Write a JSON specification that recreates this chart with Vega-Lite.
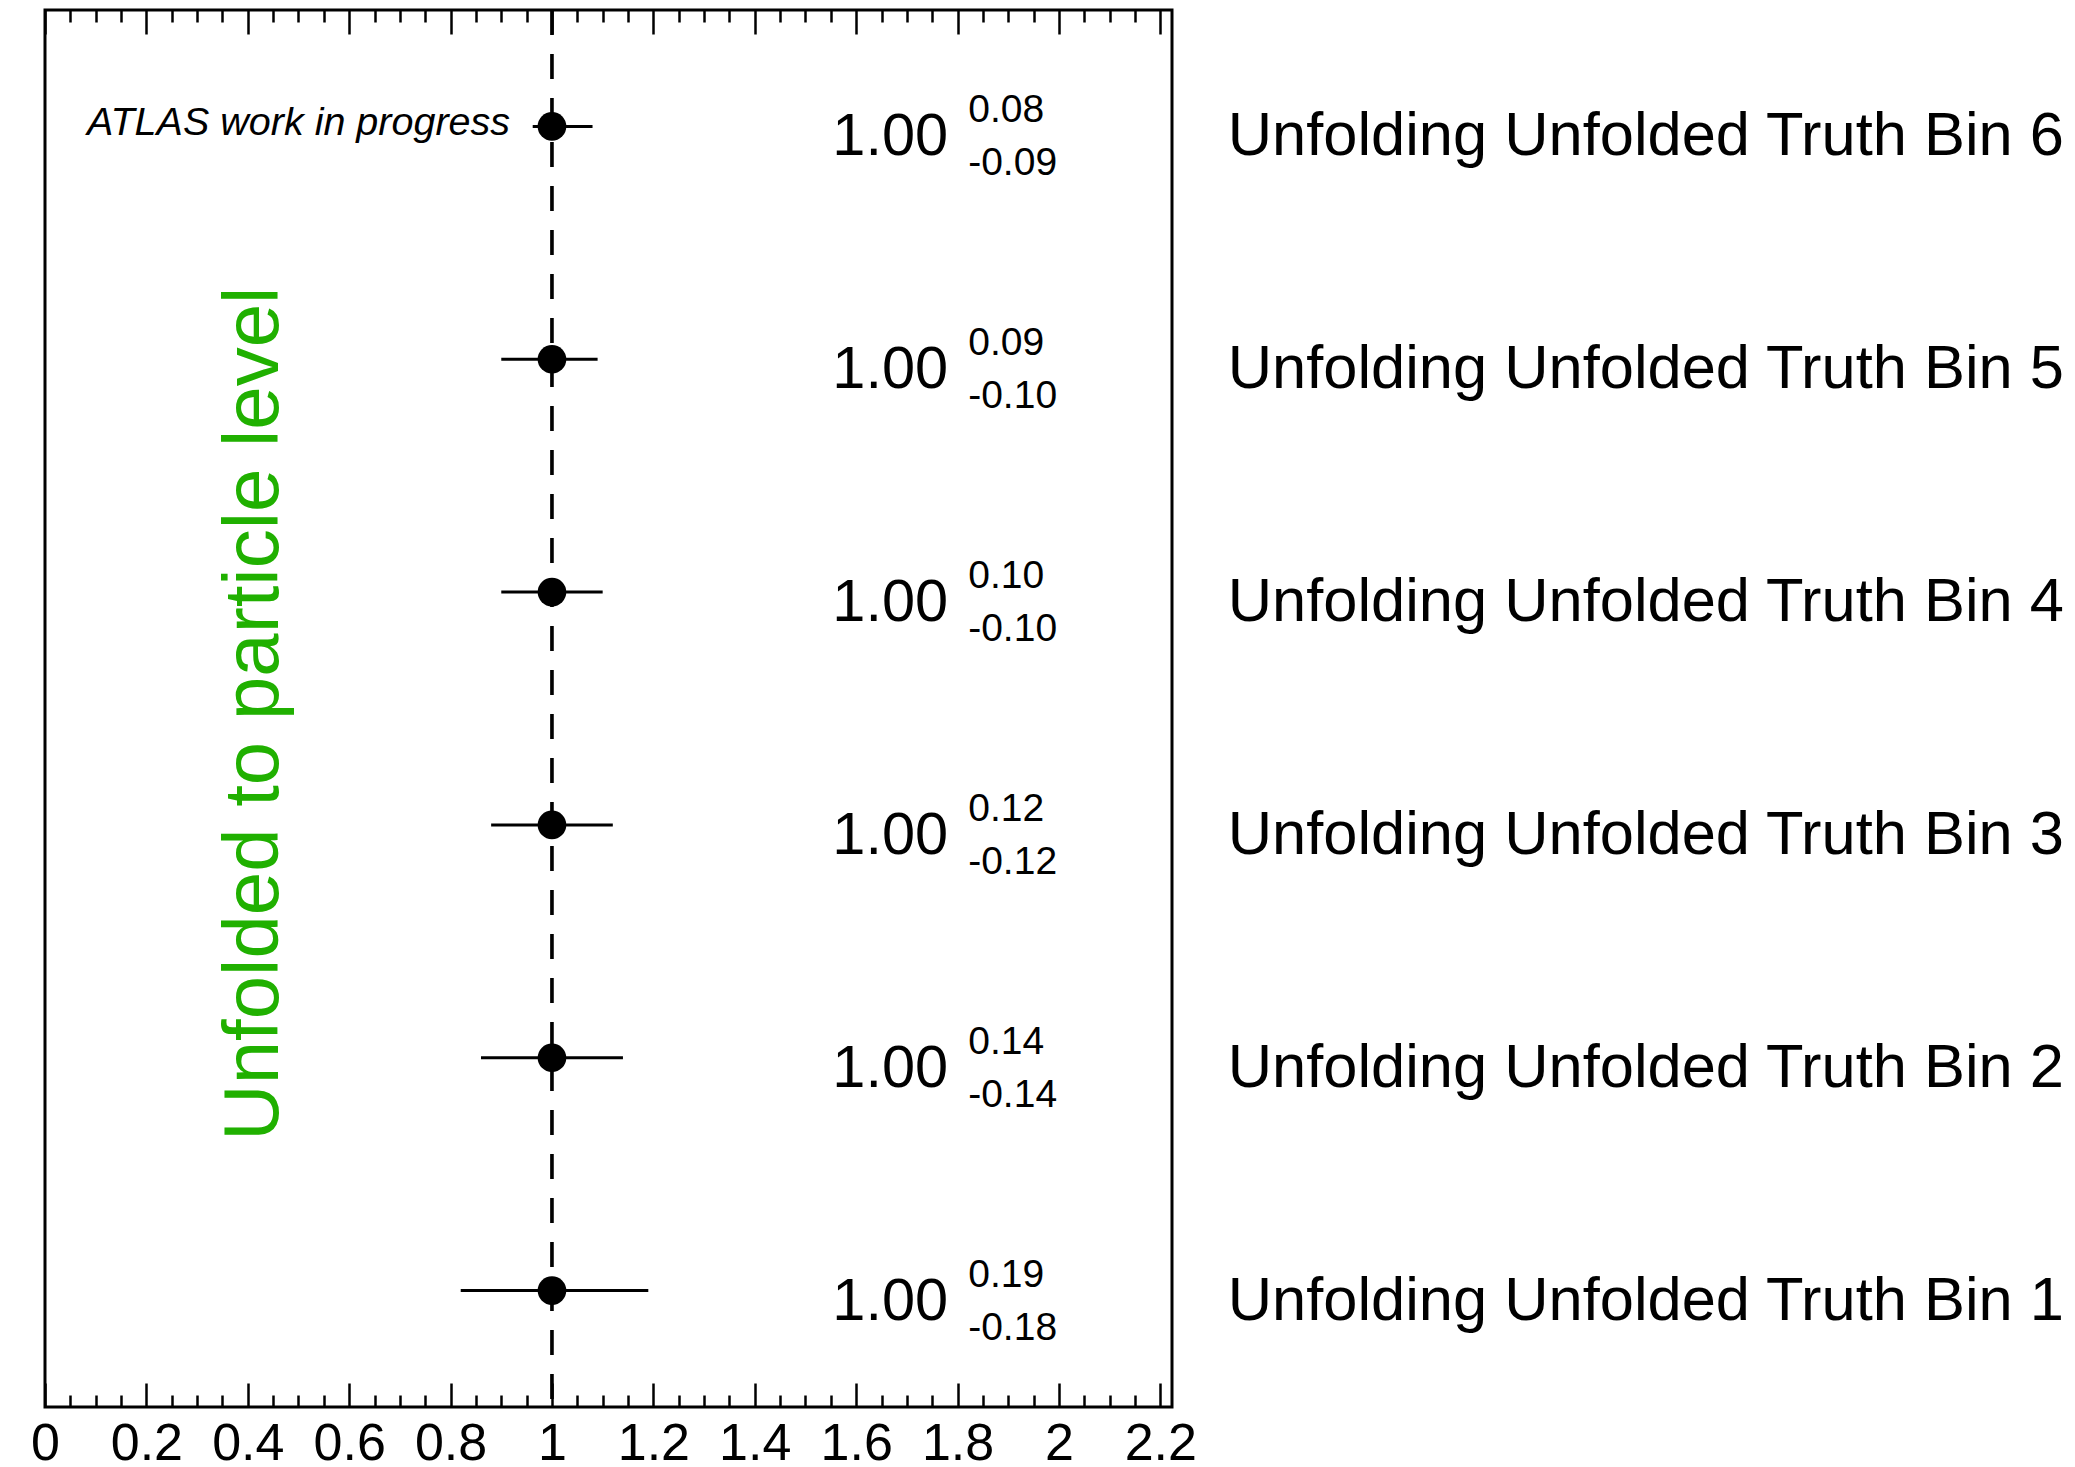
{
  "$schema": "https://vega.github.io/schema/vega-lite/v6.json",
  "width": 1127,
  "height": 1397,
  "autosize": {"type": "none"},
  "padding": {"left": 45, "top": 10, "right": 903, "bottom": 60},
  "background": "white",
  "config": {
    "view": {"stroke": "black", "strokeWidth": 3},
    "font": "Liberation Sans",
    "axis": {"grid": false, "domain": false}
  },
  "data": {
    "values": [
      {"bin": 6, "val": 1.0, "lo": 0.91, "hi": 1.08, "txt": "1.00", "up": "0.08", "down": "-0.09", "name": "Unfolding Unfolded Truth Bin 6"},
      {"bin": 5, "val": 1.0, "lo": 0.90, "hi": 1.09, "txt": "1.00", "up": "0.09", "down": "-0.10", "name": "Unfolding Unfolded Truth Bin 5"},
      {"bin": 4, "val": 1.0, "lo": 0.90, "hi": 1.10, "txt": "1.00", "up": "0.10", "down": "-0.10", "name": "Unfolding Unfolded Truth Bin 4"},
      {"bin": 3, "val": 1.0, "lo": 0.88, "hi": 1.12, "txt": "1.00", "up": "0.12", "down": "-0.12", "name": "Unfolding Unfolded Truth Bin 3"},
      {"bin": 2, "val": 1.0, "lo": 0.86, "hi": 1.14, "txt": "1.00", "up": "0.14", "down": "-0.14", "name": "Unfolding Unfolded Truth Bin 2"},
      {"bin": 1, "val": 1.0, "lo": 0.82, "hi": 1.19, "txt": "1.00", "up": "0.19", "down": "-0.18", "name": "Unfolding Unfolded Truth Bin 1"}
    ]
  },
  "resolve": {"axis": {"x": "independent"}},
  "layer": [
    {
      "mark": {"type": "rule", "color": "black", "strokeWidth": 2.5, "strokeDash": [25, 19]},
      "encoding": {
        "x": {
          "datum": 1,
          "type": "quantitative",
          "scale": {"domain": [0, 2.223], "nice": false, "zero": false},
          "axis": {
            "orient": "top",
            "title": null,
            "labels": false,
            "domain": false,
            "tickColor": "black",
            "tickWidth": 2.5,
            "tickSize": -24,
            "tickDash": {"condition": {"test": "abs(datum.value*5 - round(datum.value*5)) < 0.001", "value": [24, 0]}, "value": [12, 100]},
            "values": [0,0.05,0.1,0.15,0.2,0.25,0.3,0.35,0.4,0.45,0.5,0.55,0.6,0.65,0.7,0.75,0.8,0.85,0.9,0.95,1,1.05,1.1,1.15,1.2,1.25,1.3,1.35,1.4,1.45,1.5,1.55,1.6,1.65,1.7,1.75,1.8,1.85,1.9,1.95,2,2.05,2.1,2.15,2.2]
          }
        }
      }
    },
    {
      "mark": {"type": "rule", "color": "black", "strokeWidth": 3},
      "encoding": {
        "x": {
          "field": "lo",
          "type": "quantitative",
          "scale": {"domain": [0, 2.223], "nice": false, "zero": false},
          "axis": {
            "orient": "bottom",
            "title": null,
            "domain": false,
            "tickColor": "black",
            "tickWidth": 2.5,
            "tickSize": -24,
            "tickDash": {"condition": {"test": "abs(datum.value*5 - round(datum.value*5)) < 0.001", "value": [24, 0]}, "value": [12, 100]},
            "labelFlush": false,
            "labelOverlap": false,
            "labelFontSize": 52,
            "labelColor": "black",
            "labelFont": "Liberation Sans",
            "labelPadding": 35,
            "labelBaseline": "top",
            "values": [0,0.05,0.1,0.15,0.2,0.25,0.3,0.35,0.4,0.45,0.5,0.55,0.6,0.65,0.7,0.75,0.8,0.85,0.9,0.95,1,1.05,1.1,1.15,1.2,1.25,1.3,1.35,1.4,1.45,1.5,1.55,1.6,1.65,1.7,1.75,1.8,1.85,1.9,1.95,2,2.05,2.1,2.15,2.2],
            "labelExpr": "abs(datum.value*5 - round(datum.value*5)) < 0.001 ? format(datum.value, '~r') : ''"
          }
        },
        "x2": {"field": "hi"},
        "y": {"field": "bin", "type": "quantitative", "scale": {"domain": [0.5, 6.5], "nice": false, "zero": false}, "axis": null}
      }
    },
    {
      "data": {"values": [{"part": "label background"}]},
      "mark": {"type": "rect", "color": "white", "opacity": 1},
      "encoding": {
        "x": {"datum": 0.06, "type": "quantitative", "axis": null},
        "x2": {"datum": 0.962},
        "y": {"datum": 6.15, "type": "quantitative", "axis": null},
        "y2": {"datum": 5.85}
      }
    },
    {
      "mark": {"type": "point", "shape": "circle", "filled": true, "color": "black", "size": 820, "opacity": 1},
      "encoding": {
        "x": {"field": "val", "type": "quantitative", "axis": null},
        "y": {"field": "bin", "type": "quantitative", "axis": null}
      }
    },
    {
      "mark": {"type": "text", "align": "left", "baseline": "alphabetic", "fontSize": 59.5, "color": "black", "dy": 29},
      "encoding": {
        "x": {"datum": 1.553, "type": "quantitative", "axis": null},
        "y": {"field": "bin", "type": "quantitative", "axis": null},
        "text": {"field": "txt"}
      }
    },
    {
      "mark": {"type": "text", "align": "left", "baseline": "alphabetic", "fontSize": 39, "color": "black", "dy": -4},
      "encoding": {
        "x": {"datum": 1.821, "type": "quantitative", "axis": null},
        "y": {"field": "bin", "type": "quantitative", "axis": null},
        "text": {"field": "up"}
      }
    },
    {
      "mark": {"type": "text", "align": "left", "baseline": "alphabetic", "fontSize": 39, "color": "black", "dy": 49},
      "encoding": {
        "x": {"datum": 1.821, "type": "quantitative", "axis": null},
        "y": {"field": "bin", "type": "quantitative", "axis": null},
        "text": {"field": "down"}
      }
    },
    {
      "mark": {"type": "text", "align": "left", "baseline": "alphabetic", "fontSize": 61.4, "color": "black", "dy": 29},
      "encoding": {
        "x": {"datum": 2.333, "type": "quantitative", "axis": null},
        "y": {"field": "bin", "type": "quantitative", "axis": null},
        "text": {"field": "name"}
      }
    },
    {
      "data": {"values": [{"label": "ATLAS work in progress"}]},
      "mark": {"type": "text", "align": "left", "baseline": "alphabetic", "fontSize": 39.5, "fontStyle": "italic", "color": "black", "dy": 9},
      "encoding": {
        "x": {"datum": 0.083, "type": "quantitative", "axis": null},
        "y": {"datum": 6, "type": "quantitative", "axis": null},
        "text": {"field": "label"}
      }
    },
    {
      "data": {"values": [{"label": "Unfolded to particle level"}]},
      "mark": {"type": "text", "align": "center", "baseline": "alphabetic", "fontSize": 78, "angle": 270, "color": "#20b000"},
      "encoding": {
        "x": {"datum": 0.4596, "type": "quantitative", "axis": null},
        "y": {"datum": 3.478, "type": "quantitative", "axis": null},
        "text": {"field": "label"}
      }
    }
  ]
}
